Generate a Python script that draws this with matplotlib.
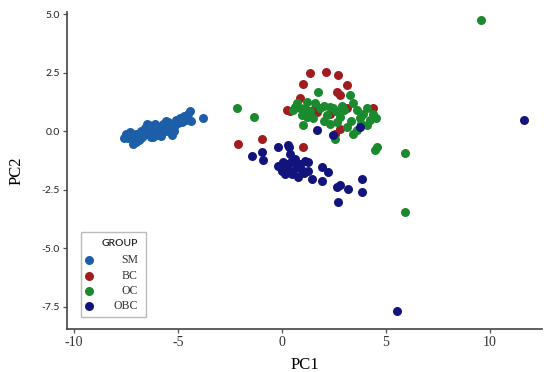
import matplotlib
matplotlib.use("Agg")
import matplotlib.pyplot as plt
from matplotlib.patches import Rectangle

# ---------------------------------------------------------------------------
# Data
# ---------------------------------------------------------------------------
groups = ["SM", "BC", "OC", "OBC"]
colors = ["#1c5fa8", "#a01c1f", "#1b8a2f", "#12137c"]

sm_x = [-7.6, -7.5, -7.4, -7.3, -7.16, -7.1, -7.0, -6.9, -6.8, -6.7, -6.6, -6.5,
        -6.5, -6.4, -6.3, -6.2, -6.1, -6.0, -5.9, -5.8, -5.7, -5.6, -5.6, -5.5,
        -5.4, -5.3, -5.2, -5.2, -5.1, -5.0, -4.9, -4.8, -4.7, -4.6, -4.5, -4.42,
        -4.4, -3.8, -6.8, -7.0, -6.2]
sm_y = [-0.27, -0.1, -0.3, -0.05, -0.53, -0.2, -0.1, -0.35, 0.0, -0.2, 0.15, -0.1,
        0.33, 0.25, -0.25, 0.05, 0.3, -0.15, 0.1, -0.2, 0.3, 0.0, 0.42, 0.4,
        0.15, -0.15, 0.0, 0.2, 0.5, 0.35, 0.55, 0.4, 0.65, 0.5, 0.75, 0.85,
        0.46, 0.59, -0.3, -0.45, -0.25]

bc_x = [1.35, 2.12, 2.71, 1.03, 3.11, 2.63, 2.79, 0.22, 0.38, 1.59, 1.67, 3.11,
        4.38, 2.79, 2.55, 1.03, -0.98, -2.12, 0.87, 2.31]
bc_y = [2.49, 2.53, 2.41, 2.01, 1.98, 1.70, 1.55, 0.91, 0.86, 0.98, 0.84, 0.98,
        0.98, 0.12, -0.10, -0.67, -0.31, -0.53, 1.41, 0.76]

oc_x = [-2.18, -1.33, 9.55, 5.91, 4.47, 4.55, 5.91, 0.70, 0.87, 1.19, 1.75, 1.35,
        1.00, 1.83, 2.15, 2.46, 2.63, 2.79, 3.27, 3.41, 3.59, 3.75, 4.07, 4.38,
        4.23, 3.59, 3.41, 2.55, 3.11, 2.31, 1.50, 0.53, 4.07, 2.0, 3.0, 1.2,
        0.95, 1.6, 2.3, 2.9, 3.9, 4.5, 1.1, 2.6, 3.3, 3.8, 2.0, 0.6]
oc_y = [1.01, 0.62, 4.77, -0.92, -0.82, -0.66, -3.45, 1.19, 0.98, 1.27, 1.70, 0.85,
        0.29, 0.98, 0.69, 0.98, 0.41, 0.63, 1.55, 1.19, 0.91, 0.55, 0.98, 0.76,
        0.47, 0.04, -0.10, -0.31, 0.19, 0.33, 0.55, 0.91, 0.26, 1.1, 0.9, 0.6,
        0.7, 1.2, 1.05, 1.1, 0.75, 0.55, 1.0, 0.85, 0.45, 0.3, 0.45, 1.05]

obc_x = [1.67, 2.47, 3.75, -1.46, -0.98, -0.90, -0.18, 0.35, 0.38, -0.18, 0.06, 0.22,
         0.47, 0.71, 0.87, 1.11, 1.26, 1.26, 0.78, 1.43, 1.91, 2.23, 1.91, 0.14,
         -0.01, 0.54, 2.63, 2.79, 3.19, 3.83, 3.83, 2.71, 0.29, 5.53, 11.65, 0.3,
         0.6, -0.05, 0.9, 0.45, 1.05]
obc_y = [0.04, -0.17, 0.20, -1.06, -0.89, -1.22, -0.67, -0.65, -0.96, -1.47, -1.32, -1.61,
         -1.82, -1.53, -1.39, -1.25, -1.32, -1.68, -1.97, -2.04, -1.51, -1.75, -2.11, -1.82,
         -1.68, -1.68, -2.40, -2.28, -2.47, -2.04, -2.61, -3.04, -0.60, -7.66, 0.47, -1.4,
         -1.2, -1.55, -1.6, -1.3, -1.8]

xs = [sm_x, bc_x, oc_x, obc_x]
ys = [sm_y, bc_y, oc_y, obc_y]

# ---------------------------------------------------------------------------
# Figure
# ---------------------------------------------------------------------------
fig = plt.figure(figsize=(5.5, 3.72), dpi=100)
ax = fig.add_axes([67 / 550, 43 / 372, 475 / 550, 317 / 372])

for gx, gy, c in zip(xs, ys, colors):
    ax.scatter(gx, gy, s=42, color=c, linewidths=0, zorder=3, clip_on=False)

ax.set_xlim(-10.34, 12.5)
ax.set_ylim(-8.45, 5.1)
ax.set_xticks([-10, -5, 0, 5, 10])
ax.set_xticklabels(["-10", "-5", "0", "5", "10"])
ax.set_yticks([-7.5, -5.0, -2.5, 0.0, 2.5, 5.0])
ax.set_yticklabels(["-7.5", "-5.0", "-2.5", "0.0", "2.5", "5.0"])

for side in ["top", "right"]:
    ax.spines[side].set_visible(False)
for side in ["left", "bottom"]:
    ax.spines[side].set_color("#444444")
    ax.spines[side].set_linewidth(1.2)

ax.tick_params(axis="both", direction="out", length=3, width=0.9,
               color="#555555", pad=2)
for lab in ax.get_xticklabels():
    lab.set_fontfamily("Liberation Serif")
    lab.set_fontsize(10)
    lab.set_color("#333333")
for lab in ax.get_yticklabels():
    lab.set_fontfamily("Lato")
    lab.set_fontsize(7.5)
    lab.set_color("#222222")

ax.set_xlabel("PC1", fontfamily="Liberation Serif", fontsize=12, labelpad=6)
ax.set_ylabel("PC2", fontfamily="Liberation Serif", fontsize=12, labelpad=12)

# ---- legend box drawn by hand (labels right-aligned like the source) ----
ax.add_patch(Rectangle((0.029, 0.039), 0.137, 0.266, transform=ax.transAxes,
                       facecolor="white", edgecolor="#bbbbbb", linewidth=1.0,
                       zorder=4))
ax.text(0.149, 0.27, "GROUP", transform=ax.transAxes, ha="right", va="center",
        fontfamily="Lato", fontweight="semibold", fontsize=7.5, color="#222222",
        zorder=5)
leg_y = [0.218, 0.168, 0.121, 0.074]
for g, c, yy in zip(groups, colors, leg_y):
    ax.scatter([0.046], [yy], s=42, color=c, linewidths=0,
               transform=ax.transAxes, zorder=5, clip_on=False)
    ax.text(0.149, yy, g, transform=ax.transAxes, ha="right", va="center",
            fontfamily="Liberation Serif", fontsize=8.5, color="#333333",
            zorder=5)

fig.savefig("out.png", dpi=100)
